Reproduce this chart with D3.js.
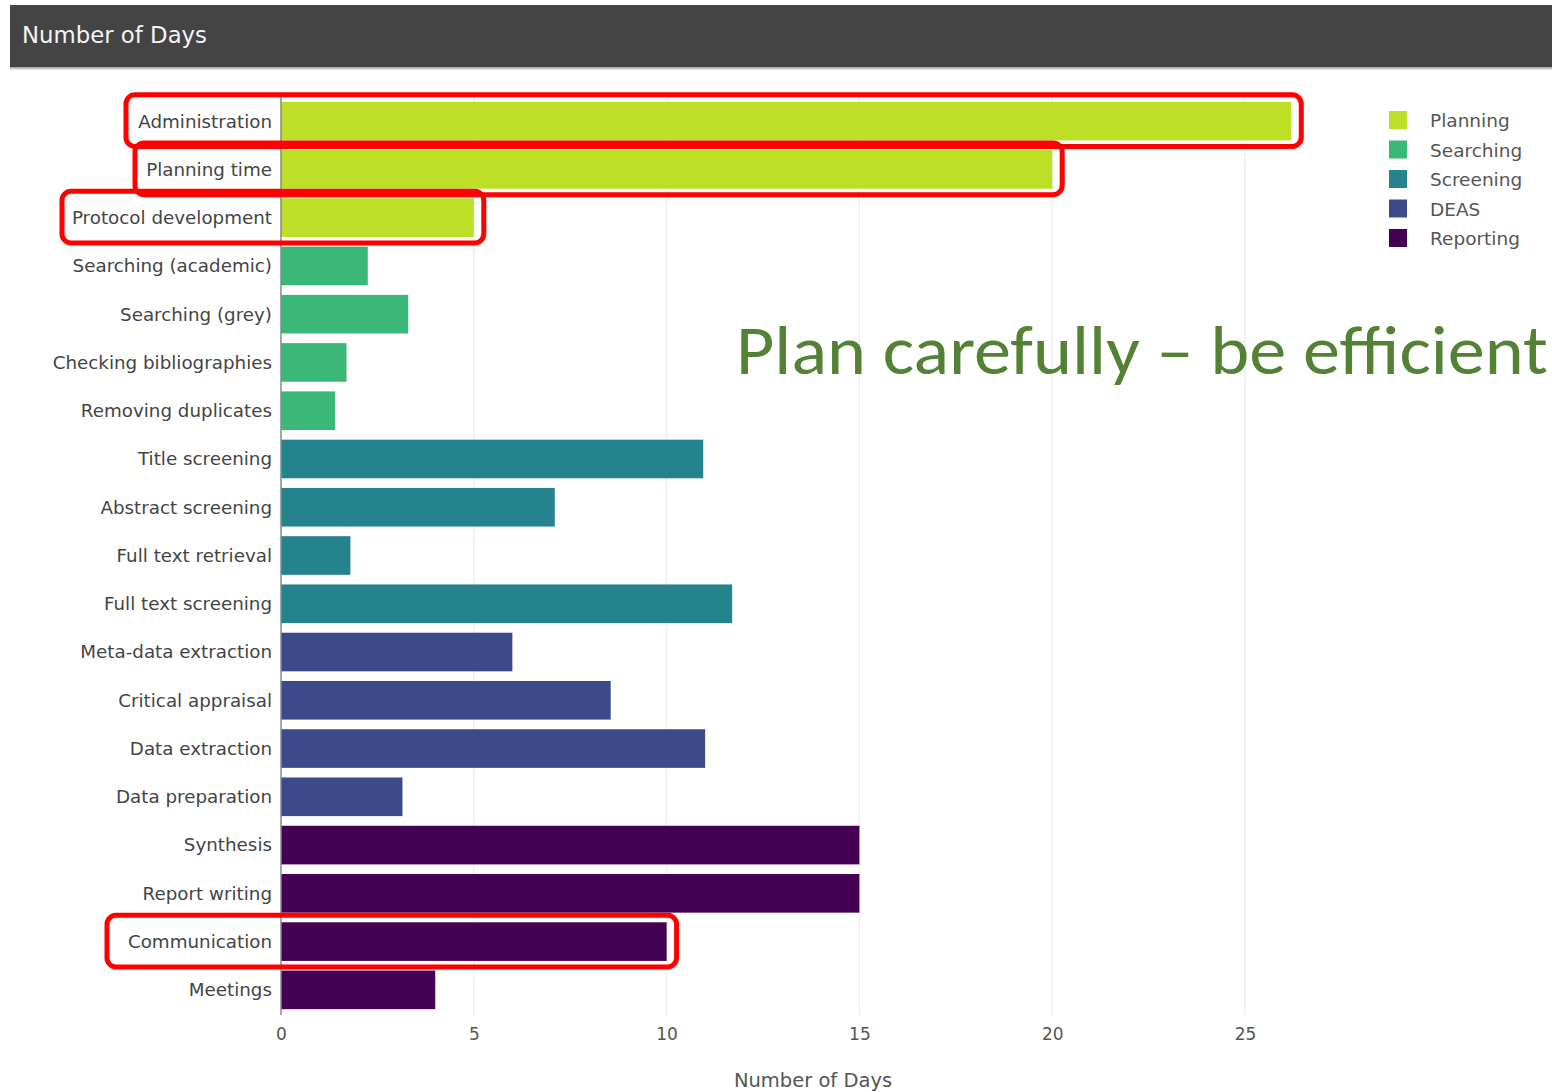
<!DOCTYPE html>
<html>
<head>
<meta charset="utf-8">
<script src="https://cdn.jsdelivr.net/npm/d3@7"></script>
<style>
html,body{margin:0;padding:0;background:#fff;}
svg{display:block;}
</style>
</head>
<body>
<svg id="chart" width="1552" height="1092"></svg>
<script>
const categories = ["Administration","Planning time","Protocol development","Searching (academic)","Searching (grey)","Checking bibliographies","Removing duplicates","Title screening","Abstract screening","Full text retrieval","Full text screening","Meta-data extraction","Critical appraisal","Data extraction","Data preparation","Synthesis","Report writing","Communication","Meetings"];
const values = [26.2,20,5,2.25,3.3,1.7,1.4,10.95,7.1,1.8,11.7,6,8.55,11,3.15,15,15,10,4];
const groups = ["Planning","Planning","Planning","Searching","Searching","Searching","Searching","Screening","Screening","Screening","Screening","DEAS","DEAS","DEAS","DEAS","Reporting","Reporting","Reporting","Reporting"];
const legendNames = ["Planning","Searching","Screening","DEAS","Reporting"];
const legendColors = ["#bddf26","#3bb877","#25838e","#3d4a89","#440154"];
const xTicks = [0,5,10,15,20,25];
const highlighted = ["Administration","Planning time","Protocol development","Communication"];
const titleText = "Number of Days";
const axisTitle = "Number of Days";
const annotation = "Plan carefully \u2013 be efficient";

const svg = d3.select("#chart");
const font = "'DejaVu Sans', Verdana, sans-serif";

// header bar
const hdr = svg.append("defs").append("linearGradient").attr("id","hg").attr("x1",0).attr("x2",0).attr("y1",0).attr("y2",1);
hdr.append("stop").attr("offset","0").attr("stop-color","#9a9a9a");
hdr.append("stop").attr("offset","1").attr("stop-color","#f2f2f2");
svg.append("rect").attr("x",10).attr("y",5).attr("width",1542).attr("height",62).attr("fill","#444444");
svg.append("rect").attr("x",10).attr("y",67).attr("width",1542).attr("height",3).attr("fill","url(#hg)");
svg.append("text").attr("x",22).attr("y",43).attr("fill","#f4f4f4")
  .style("font-family",font).style("font-size","23px").attr("textLength",185).attr("lengthAdjust","spacingAndGlyphs").text(titleText);

const x = d3.scaleLinear().domain([0,25]).range([281, 281+25*38.56]);
const y = d3.scaleBand().domain(categories).range([97,1014]).paddingInner(0.2).paddingOuter(0.1);
const color = d3.scaleOrdinal().domain(legendNames).range(legendColors);

// gridlines
svg.append("g").selectAll("line").data(xTicks.filter(d=>d>0)).join("line")
  .attr("x1",d=>x(d)).attr("x2",d=>x(d)).attr("y1",97).attr("y2",1015)
  .attr("stroke","#eeeeee").attr("stroke-width",1.5);

// bars
svg.append("g").selectAll("rect").data(categories).join("rect")
  .attr("x",x(0)).attr("y",d=>y(d)).attr("height",y.bandwidth())
  .attr("width",(d,i)=>x(values[i])-x(0))
  .attr("fill",(d,i)=>color(groups[i]));

// y axis line
svg.append("line").attr("x1",x(0)).attr("x2",x(0)).attr("y1",97).attr("y2",1015).attr("stroke","#888").attr("stroke-width",1.5);

// y labels
const yAxis = svg.append("g").attr("transform",`translate(${x(0)},0)`)
  .call(d3.axisLeft(y).tickSize(0).tickPadding(9));
yAxis.select(".domain").remove();
yAxis.selectAll("text").style("font-family",font).style("font-size","18.3px").attr("fill","#444").attr("dy","0.35em");

// x axis
const xAxis = svg.append("g").attr("transform","translate(0,1015)")
  .call(d3.axisBottom(x).tickValues(xTicks).tickSize(0).tickPadding(13));
xAxis.select(".domain").remove();
xAxis.selectAll("text").style("font-family",font).style("font-size","17px").attr("fill","#555");

svg.append("text").attr("x",813).attr("y",1087).attr("text-anchor","middle")
  .style("font-family",font).style("font-size","19.5px").attr("fill","#555").text(axisTitle);

// legend
const lg = svg.append("g").selectAll("g").data(legendNames).join("g")
  .attr("transform",(d,i)=>`translate(1389,${111+i*29.5})`);
lg.append("rect").attr("width",18).attr("height",18).attr("fill",d=>color(d));
lg.append("text").attr("x",41).attr("y",10).attr("dy","0.35em")
  .style("font-family",font).style("font-size","18.5px").attr("fill","#555").text(d=>d);

// highlight boxes
const boxLeft = {"Administration":126,"Planning time":135,"Protocol development":62,"Communication":107};
svg.append("g").selectAll("rect").data(highlighted).join("rect")
  .attr("x",d=>boxLeft[d])
  .attr("y",d=>y(d)-7)
  .attr("width",d=>x(values[categories.indexOf(d)])+10-boxLeft[d])
  .attr("height",d=>y.bandwidth()+13)
  .attr("rx",9).attr("ry",9)
  .attr("fill","none").attr("stroke","#ff0000").attr("stroke-width",5);

// annotation
svg.append("text").attr("x",736).attr("y",374)
  .style("font-family","Carlito, 'Open Sans', 'Liberation Sans', sans-serif").style("font-size","70px")
  .attr("fill","#548235").attr("textLength",812).attr("lengthAdjust","spacingAndGlyphs").text(annotation);
</script>
</body>
</html>
